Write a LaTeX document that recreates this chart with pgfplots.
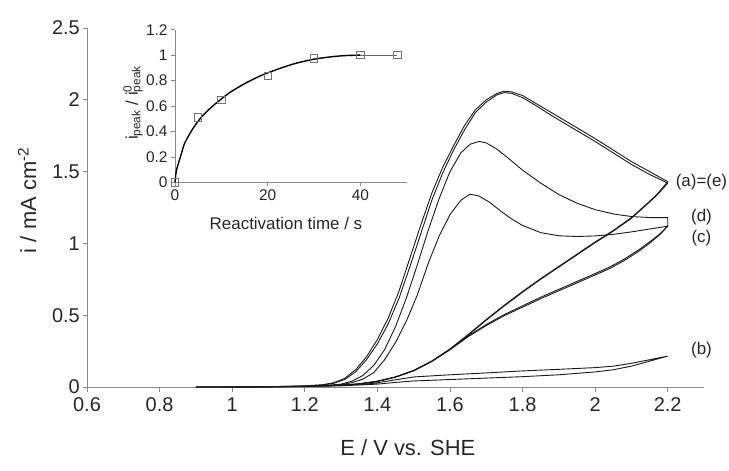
\documentclass[border=0pt]{standalone}
\usepackage{fontspec}
\setmainfont{Liberation Sans}
\usepackage{pgfplots}
\pgfplotsset{compat=1.18}
\definecolor{axgray}{HTML}{8A8A8A}
\pgfplotsset{cv/.style={black!90, line width=0.9bp, mark=none}}
\begin{document}
\begin{tikzpicture}
\begin{axis}[
  at={(87bp,84bp)}, anchor=south west,
  scale only axis, width=617bp, height=359bp,
  xmin=0.6, xmax=2.3, ymin=0, ymax=2.5,
  axis lines=left,
  axis line style={-, axgray, line width=0.8bp},
  tick style={axgray, line width=0.7bp},
  tick align=outside, major tick length=4.5bp,
  xtick={0.6,0.8,1,1.2,1.4,1.6,1.8,2,2.2},
  xticklabels={0.6,0.8,1,1.2,1.4,1.6,1.8,2,2.2},
  ytick={0,0.5,1,1.5,2,2.5},
  yticklabels={0,0.5,1,1.5,2,2.5},
  /pgf/number format/assume math mode=true,
  ticklabel style={font=\fontsize{20}{24}\selectfont, text=black!85},
  yticklabel style={inner xsep=2.5bp, inner ysep=1bp},
  xticklabel style={inner ysep=6bp, inner xsep=1bp},
  xlabel={E / V vs. SHE},
  ylabel={i / mA cm\textsuperscript{-2}},
  label style={font=\fontsize{22}{26}\selectfont, text=black!85},
  xlabel style={at={(axis description cs:0.52,-0.17)}, anchor=center},
  ylabel style={at={(axis description cs:-0.097,0.52)}, anchor=center, rotate=0},
  clip=false,
]
% (a)
\addplot[cv] coordinates {(0.90,0) (1.00,0.000) (1.10,0.002) (1.20,0.008) (1.25,0.016) (1.28,0.03) (1.31,0.06) (1.34,0.12) (1.37,0.21) (1.40,0.33) (1.43,0.48) (1.46,0.67) (1.49,0.90) (1.52,1.13) (1.55,1.35) (1.58,1.53) (1.61,1.68) (1.64,1.82) (1.67,1.93) (1.70,2.00) (1.73,2.045) (1.75,2.06) (1.77,2.055) (1.80,2.03) (1.84,1.97) (1.88,1.91) (1.92,1.85) (1.96,1.79) (2.00,1.73) (2.05,1.65) (2.10,1.57) (2.15,1.50) (2.20,1.43)
(2.19,1.40) (2.17,1.34) (2.14,1.27) (2.10,1.18) (2.05,1.09) (2.00,1.01) (1.95,0.925) (1.90,0.84) (1.85,0.755) (1.80,0.665) (1.75,0.57) (1.70,0.47) (1.65,0.365) (1.60,0.265) (1.55,0.18) (1.50,0.115) (1.45,0.07) (1.40,0.04) (1.35,0.022) (1.30,0.012) (1.20,0.005) (1.10,0.002) (1.00,0) (0.90,0)};
% (e)
\addplot[cv] coordinates {(0.90,0) (1.00,0) (1.10,0.002) (1.20,0.007) (1.25,0.014) (1.28,0.026) (1.31,0.052) (1.34,0.105) (1.37,0.19) (1.40,0.30) (1.43,0.44) (1.46,0.62) (1.49,0.84) (1.52,1.07) (1.55,1.30) (1.58,1.49) (1.61,1.65) (1.64,1.79) (1.67,1.91) (1.70,1.985) (1.73,2.035) (1.75,2.05) (1.77,2.045) (1.80,2.015) (1.84,1.955) (1.88,1.89) (1.92,1.83) (1.96,1.77) (2.00,1.71) (2.05,1.63) (2.10,1.55) (2.15,1.48) (2.20,1.42)
(2.19,1.39) (2.17,1.335) (2.14,1.265) (2.10,1.175) (2.05,1.085) (2.00,1.005) (1.95,0.92) (1.90,0.835) (1.85,0.75) (1.80,0.66) (1.75,0.565) (1.70,0.465) (1.65,0.36) (1.60,0.262) (1.55,0.178) (1.50,0.113) (1.45,0.069) (1.40,0.039) (1.35,0.021) (1.30,0.011) (1.20,0.005) (1.10,0.002) (1.00,0) (0.90,0)};
% (d)
\addplot[cv] coordinates {(0.90,0) (1.00,0) (1.10,0.001) (1.20,0.005) (1.25,0.01) (1.30,0.02) (1.33,0.04) (1.36,0.08) (1.39,0.15) (1.42,0.26) (1.45,0.42) (1.48,0.62) (1.51,0.85) (1.54,1.09) (1.57,1.31) (1.60,1.50) (1.63,1.63) (1.655,1.69) (1.68,1.71) (1.70,1.70) (1.73,1.655) (1.76,1.595) (1.80,1.51) (1.85,1.42) (1.90,1.34) (1.95,1.28) (2.00,1.235) (2.05,1.205) (2.10,1.187) (2.15,1.18) (2.20,1.18)
(2.20,1.12) (2.18,1.07) (2.15,1.01) (2.12,0.955) (2.08,0.89) (2.04,0.835) (2.00,0.79) (1.95,0.735) (1.90,0.68) (1.85,0.625) (1.80,0.565) (1.75,0.505) (1.70,0.435) (1.65,0.355) (1.60,0.262) (1.55,0.18) (1.50,0.115) (1.45,0.07) (1.40,0.04) (1.35,0.022) (1.30,0.012) (1.20,0.005) (1.10,0.002) (1.00,0) (0.90,0)};
% (c)
\addplot[cv] coordinates {(0.90,0) (1.00,0) (1.10,0.001) (1.20,0.004) (1.25,0.008) (1.30,0.016) (1.33,0.03) (1.36,0.055) (1.39,0.10) (1.42,0.19) (1.45,0.31) (1.48,0.46) (1.51,0.64) (1.54,0.86) (1.57,1.05) (1.60,1.20) (1.63,1.30) (1.655,1.343) (1.68,1.33) (1.71,1.285) (1.74,1.225) (1.77,1.17) (1.80,1.125) (1.85,1.075) (1.90,1.053) (1.95,1.048) (2.00,1.052) (2.05,1.063) (2.10,1.08) (2.15,1.10) (2.20,1.12)
(2.18,1.065) (2.15,1.0) (2.12,0.945) (2.08,0.88) (2.04,0.825) (2.00,0.78) (1.95,0.725) (1.90,0.67) (1.85,0.615) (1.80,0.556) (1.75,0.497) (1.70,0.428) (1.65,0.35) (1.60,0.259) (1.55,0.178) (1.50,0.113) (1.45,0.069) (1.40,0.039) (1.35,0.021) (1.30,0.011) (1.20,0.004) (1.10,0.002) (1.00,0) (0.90,0)};
% (b)
\addplot[cv] coordinates {(0.90,0) (1.10,0.001) (1.20,0.003) (1.30,0.008) (1.40,0.02) (1.45,0.032) (1.50,0.042) (1.60,0.052) (1.70,0.062) (1.80,0.072) (1.90,0.085) (2.00,0.105) (2.05,0.12) (2.10,0.145) (2.15,0.18) (2.20,0.215)
(2.15,0.19) (2.10,0.165) (2.05,0.145) (2.00,0.135) (1.90,0.123) (1.80,0.112) (1.70,0.098) (1.60,0.085) (1.50,0.07) (1.45,0.05) (1.40,0.03) (1.35,0.015) (1.30,0.008) (1.20,0.003) (1.00,0) (0.90,0)};
\node[font=\fontsize{17}{20}\selectfont, text=black!85] at (axis cs:2.293,1.425) {(a)=(e)};
\node[font=\fontsize{17}{20}\selectfont, text=black!85] at (axis cs:2.293,1.18) {(d)};
\node[font=\fontsize{17}{20}\selectfont, text=black!85] at (axis cs:2.293,1.04) {(c)};
\node[font=\fontsize{17}{20}\selectfont, text=black!85] at (axis cs:2.293,0.259) {(b)};
\end{axis}
\begin{axis}[
  at={(175bp,288.7bp)}, anchor=south west,
  scale only axis, width=231.7bp, height=152.6bp,
  xmin=0, xmax=50, ymin=0, ymax=1.2,
  axis lines=left,
  axis line style={-, axgray, line width=0.8bp},
  tick style={axgray, line width=0.7bp},
  tick align=outside, major tick length=4bp,
  xtick={0,20,40}, xticklabels={0,20,40},
  ytick={0,0.2,0.4,0.6,0.8,1,1.2},
  yticklabels={0,0.2,0.4,0.6,0.8,1,1.2},
  /pgf/number format/assume math mode=true,
  ticklabel style={font=\fontsize{15.5}{18}\selectfont, text=black!85},
  xlabel={Reactivation time / s},
  ylabel={i\textsubscript{peak} / i\rlap{\textsuperscript{0}}\textsubscript{peak}},
  label style={font=\fontsize{17}{20}\selectfont, text=black!85},
  xlabel style={at={(axis description cs:0.479,-0.267)}, anchor=center},
  ylabel style={at={(axis description cs:-0.181,0.52)}, anchor=center},
  clip=false,
]
\addplot[only marks, mark=square, mark size=3.6bp, mark options={draw=black!55, line width=0.7bp}] coordinates {(0,0) (5,0.51) (10,0.65) (20,0.84) (30,0.975) (40,1.0) (48,1.0)};
\addplot[black, line width=1.4bp, smooth, mark=none] coordinates {(0,0) (0.2,0.07) (0.5,0.12) (1,0.18) (1.5,0.24) (2,0.30) (3,0.37) (4,0.43) (5,0.48) (6,0.525) (8,0.595) (10,0.655) (12,0.71) (15,0.775) (18,0.83) (20,0.86) (23,0.9) (26,0.935) (30,0.968) (34,0.988) (37,0.997) (40,1.0)};
\addplot[black!60, line width=0.6bp, mark=none] coordinates {(40,1.0) (48,1.0)};
\end{axis}
\pgfresetboundingbox
\useasboundingbox (0,0) rectangle (729bp,471bp);
\end{tikzpicture}
\end{document}
